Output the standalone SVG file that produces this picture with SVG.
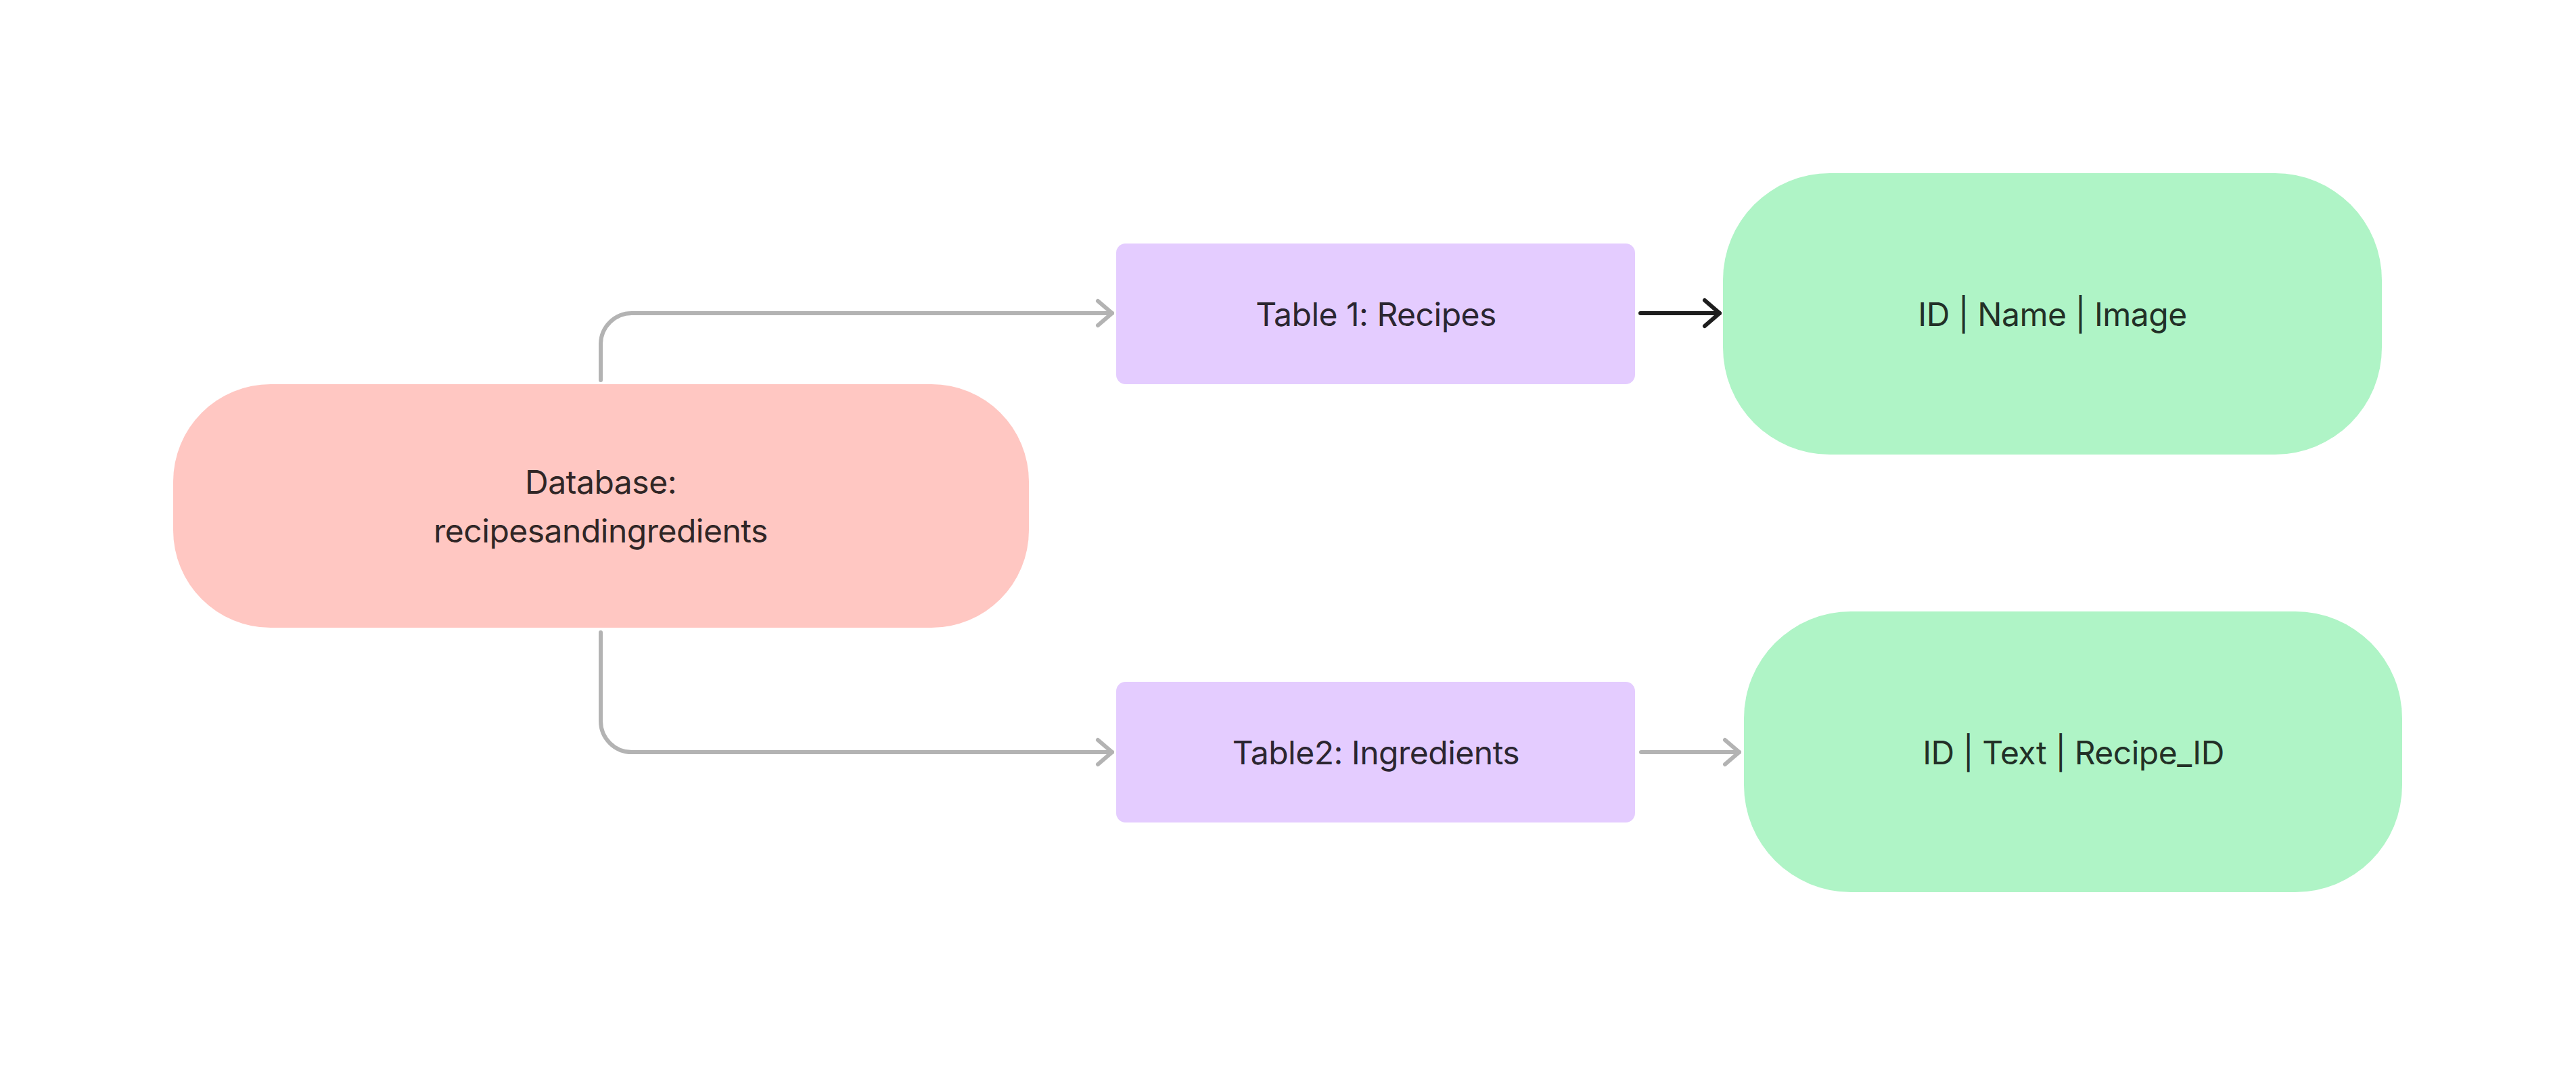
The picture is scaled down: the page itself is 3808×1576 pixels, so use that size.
<svg xmlns="http://www.w3.org/2000/svg" width="3808" height="1576" viewBox="0 0 3808 1576">
<style>
.lbl{font-family:Inter,"Noto Sans","Liberation Sans",sans-serif;font-size:48px;letter-spacing:-0.5px;text-anchor:middle}
.pink{fill:#FFC7C2}.violet{fill:#E4CCFF}.green{fill:#AFF4C6}
.tpink{fill:#302626}.tviolet{fill:#2B2631}.tgreen{fill:#223027}
.conn{fill:none;stroke-width:6;stroke-linecap:round;stroke-linejoin:round}
.gray{stroke:#B3B3B3}.black{stroke:#1E1E1E}
</style>
<defs>
<marker id="hg" markerUnits="userSpaceOnUse" viewBox="-26 -24 30 48" refX="0" refY="0" markerWidth="30" markerHeight="48" orient="auto" overflow="visible">
<path d="M-21,-18 L0,0 L-21,18" fill="none" stroke="#B3B3B3" stroke-width="6" stroke-linecap="round" stroke-linejoin="round"/>
</marker>
<marker id="hb" markerUnits="userSpaceOnUse" viewBox="-26 -24 30 48" refX="0" refY="0" markerWidth="30" markerHeight="48" orient="auto" overflow="visible">
<path d="M-22,-19 L0,0 L-22,19" fill="none" stroke="#1E1E1E" stroke-width="6" stroke-linecap="round" stroke-linejoin="round"/>
</marker>
</defs>
<rect width="3808" height="1576" fill="#FFFFFF"/>
<g id="connectors">
<path class="conn gray" d="M888,562 V508 A46,46 0 0 1 934,463 H1644" marker-end="url(#hg)"/>
<path class="conn gray" d="M888,935 V1066 A46,46 0 0 0 934,1112 H1644" marker-end="url(#hg)"/>
<path class="conn black" d="M2425,463 H2542" marker-end="url(#hb)"/>
<path class="conn gray" d="M2426,1112 H2571" marker-end="url(#hg)"/>
</g>
<g id="database">
<rect class="pink" x="256" y="568" width="1265" height="360" rx="144" ry="144"/>
<text class="lbl tpink" x="888" y="730">Database:</text>
<text class="lbl tpink" x="888" y="802">recipesandingredients</text>
</g>
<g id="table1">
<rect class="violet" x="1650" y="360" width="767" height="208" rx="14" ry="14"/>
<text class="lbl tviolet" x="2034" y="482">Table 1: Recipes</text>
</g>
<g id="table2">
<rect class="violet" x="1650" y="1008" width="767" height="208" rx="14" ry="14"/>
<text class="lbl tviolet" x="2034" y="1130">Table2: Ingredients</text>
</g>
<g id="fields1">
<rect class="green" x="2547" y="256" width="974" height="416" rx="158" ry="158"/>
<text class="lbl tgreen" x="3034" y="482">ID | Name | Image</text>
</g>
<g id="fields2">
<rect class="green" x="2578" y="904" width="973" height="415" rx="158" ry="158"/>
<text class="lbl tgreen" x="3065" y="1130">ID | Text | Recipe_ID</text>
</g>
</svg>
